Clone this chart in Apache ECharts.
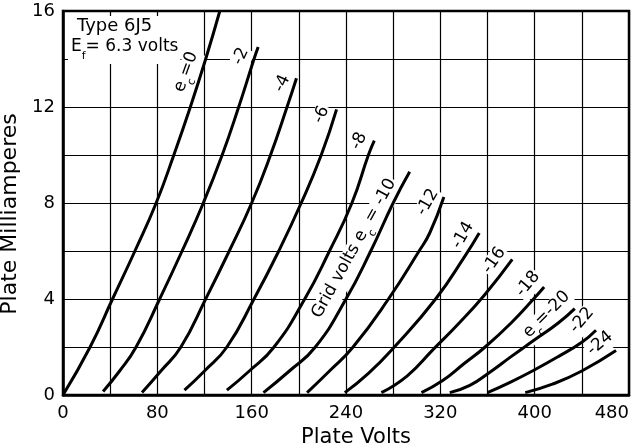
<!DOCTYPE html>
<html><head><meta charset="utf-8">
<script src="https://cdn.jsdelivr.net/npm/echarts@6/dist/echarts.min.js"></script>
<style>html,body{margin:0;padding:0;background:#fff}#c{width:642px;height:448px}</style>
</head><body><div id="c"></div>
<script>
// ---- data ----
const xTickLabels = [0, 80, 160, 240, 320, 400, 480];
const yTickLabels = [0, 4, 8, 12, 16];
const gridVolts = [0, -2, -4, -6, -8, -10, -12, -14, -16, -18, -20, -22, -24];
const curve_ec0   = [[0,0],[23,2],[42,4],[61,6],[79,8],[94,10],[108,12],[121,14],[133,16]];
const curve_ecm2  = [[34,0.15],[48,1],[62,2],[82,4],[101,6],[119,8],[135,10],[149,12],[162,14],[165.5,14.5]];
const curve_ecm4  = [[67,0.1],[83,1],[100,2],[121,4],[141,6],[160,8],[176,10],[190,12],[198,13.2]];
const curve_ecm6  = [[103,0.2],[120,1],[139,2],[162,4],[183,6],[202,8],[219,10],[232,11.9]];
const curve_ecm8  = [[139,0.2],[158,1],[179,2],[205,4],[226,6],[245,8],[259,10],[264,10.6]];
const curve_ecm10 = [[170,0.1],[192,1],[214,2],[240,4],[261,6],[280,8],[294,9.3]];
const curve_ecm12 = [[207,0.1],[226,1],[246,2],[276,4],[302,6],[311,6.75],[323,8.25]];
const curve_ecm14 = [[239,0.1],[259,0.9],[281,2],[316,4],[341,5.8],[353,6.75]];
const curve_ecm16 = [[270,0.1],[292,0.8],[314,1.9],[336,3],[358,4.2],[381,5.65]];
const curve_ecm18 = [[304,0.1],[322,0.6],[340,1.3],[358,2],[380,3],[400,4.05],[408,4.5]];
const curve_ecm20 = [[328,0.1],[345,0.4],[362,0.95],[380,1.6],[400,2.3],[420,3],[434,3.6]];
const curve_ecm22 = [[360,0.1],[380,0.55],[400,1.05],[420,1.6],[440,2.2],[452,2.7]];
const curve_ecm24 = [[392,0.1],[415,0.45],[440,1.0],[469,1.85]];
const curves = [curve_ec0, curve_ecm2, curve_ecm4, curve_ecm6, curve_ecm8, curve_ecm10,
  curve_ecm12, curve_ecm14, curve_ecm16, curve_ecm18, curve_ecm20, curve_ecm22, curve_ecm24];
const curveLabels = ['{t|e}{s|c}{t|=0}', '{t|-2}', '{t|-4}', '{t|-6}', '{t|-8}',
  '{t|Grid volts e}{s|c}{t| = -10}', '{t|-12}', '{t|-14}', '{t|-16}', '{t|-18}',
  '{t|e}{s|c}{t|=-20}', '{t|-22}', '{t|-24}'];
const titleLine1 = 'Type 6J5';
const titleLine2 = '{a|E}{b|f}{a|= 6.3 volts}';
const xName = 'Plate Volts';
const yName = 'Plate Milliamperes';

// ---- styling ----
const FONT = "'DejaVu Sans',sans-serif";
// [screen dx, screen dy, rotation] of each curve label relative to the curve's end
const labelPlace = [
  [-31, 62, 70], [-16, 10, 65], [-13, 6, 65], [-14, 6, 65], [-14, 1, 65],
  [-53, 78, 61], [-15, 6, 60], [-15, 3, 60], [-17, 2, 55], [-15, -2, 50],
  [-26, 8, 45], [-13, -9, 50], [-15, -6, 40]
];
const rich = {
  t: {fontSize: 17, fontFamily: FONT, color: '#000', lineHeight: 20, verticalAlign: 'top'},
  s: {fontSize: 11, fontFamily: FONT, color: '#000', lineHeight: 23, verticalAlign: 'bottom'}
};
function localOffset(dx, dy, deg) {
  const a = deg * Math.PI / 180, c = Math.cos(a), s = Math.sin(a);
  return [dx * c - dy * s, dx * s + dy * c];
}

const series = curves.map((d, i) => {
  const last = d[d.length - 1];
  const p = labelPlace[i];
  return {
    type: 'line', name: String(gridVolts[i]), data: d,
    showSymbol: false, smooth: 0.5,
    lineStyle: {color: '#000', width: 3},
    z: 3, silent: true,
    markPoint: {
      symbol: 'circle', symbolSize: 0, silent: true, z: 2,
      data: [{
        coord: last,
        label: {
          show: true, position: 'inside',
          formatter: () => curveLabels[i],
          offset: localOffset(p[0], p[1], p[2]), rotate: p[2],
          backgroundColor: '#fff', padding: [0, 1, 0, 1],
          rich: rich
        }
      }]
    }
  };
});

const chart = echarts.init(document.getElementById('c'), null, {renderer: 'canvas'});
chart.setOption({
  animation: false,
  backgroundColor: '#fff',
  title: {
    left: 68, top: 16, backgroundColor: '#fff', padding: [1, 2, 2, 3], itemGap: 0, z: 6,
    text: '{c|' + titleLine1 + '}\n' + titleLine2,
    textStyle: {
      fontWeight: 'normal',
      rich: {
        c: {fontSize: 18, fontFamily: FONT, color: '#000', lineHeight: 21, verticalAlign: 'top', padding: [0, 0, 0, 6]},
        a: {fontSize: 17, fontFamily: FONT, color: '#000', lineHeight: 21, verticalAlign: 'top'},
        b: {fontSize: 11, fontFamily: FONT, color: '#000', lineHeight: 24, verticalAlign: 'bottom'}
      }
    }
  },
  grid: {left: 63, right: 13, top: 11, bottom: 53, show: true, borderColor: '#000', borderWidth: 2.5,
         outerBoundsMode: 'none', containLabel: false},
  xAxis: {
    type: 'value', min: 0, max: 480, interval: 40,
    name: xName, nameLocation: 'middle', nameGap: 24,
    nameTextStyle: {fontSize: 21, fontFamily: FONT, color: '#000', padding: [0, 0, 0, 20]},
    axisLine: {show: true, lineStyle: {color: '#000', width: 2.5}},
    axisTick: {show: false},
    splitLine: {show: true, lineStyle: {color: '#000', width: 1.2}},
    axisLabel: {
      fontSize: 18, fontFamily: FONT, color: '#000', margin: 9, alignMaxLabel: 'right',
      formatter: v => xTickLabels.indexOf(v) >= 0 ? String(v) : ''
    }
  },
  yAxis: {
    type: 'value', min: 0, max: 16, interval: 2,
    name: yName, nameLocation: 'middle', nameGap: 38,
    nameTextStyle: {fontSize: 22, fontFamily: FONT, color: '#000', padding: [0, 0, 0, -22]},
    axisLine: {show: true, lineStyle: {color: '#000', width: 2.5}},
    axisTick: {show: false},
    splitLine: {show: true, lineStyle: {color: '#000', width: 1.2}},
    axisLabel: {
      fontSize: 18, fontFamily: FONT, color: '#000', margin: 8,
      formatter: v => yTickLabels.indexOf(v) >= 0 ? String(v) : ''
    }
  },
  series: series
});
</script>
</body></html>
